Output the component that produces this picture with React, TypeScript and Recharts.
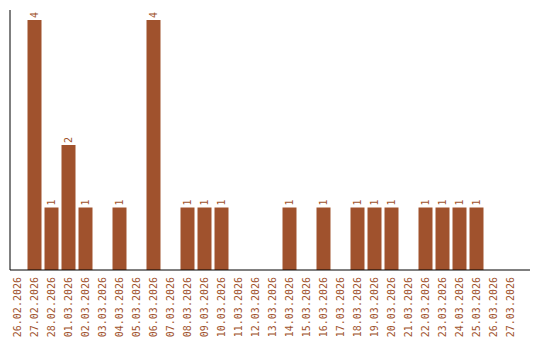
import React from 'react';
import { BarChart, Bar, XAxis, YAxis, LabelList } from 'recharts';

const days = [
  '26.02.2026', '27.02.2026', '28.02.2026', '01.03.2026', '02.03.2026',
  '03.03.2026', '04.03.2026', '05.03.2026', '06.03.2026', '07.03.2026',
  '08.03.2026', '09.03.2026', '10.03.2026', '11.03.2026', '12.03.2026',
  '13.03.2026', '14.03.2026', '15.03.2026', '16.03.2026', '17.03.2026',
  '18.03.2026', '19.03.2026', '20.03.2026', '21.03.2026', '22.03.2026',
  '23.03.2026', '24.03.2026', '25.03.2026', '26.03.2026', '27.03.2026',
];
const counts = [
  0, 4, 1, 2, 1, 0, 1, 0, 4, 0,
  1, 1, 1, 0, 0, 0, 1, 0, 1, 0,
  1, 1, 1, 0, 1, 1, 1, 1, 0, 0,
];

const data = days.map((day, i) => ({ day, count: counts[i] }));

const BROWN = '#a0522d';
const FONT = '"DejaVu Sans Mono", monospace';

const DayTick = (props: any) => {
  const { x, payload } = props;
  // labels hang just under the axis line, read bottom-up
  return (
    <text
      transform={`translate(${x},277) rotate(-90)`}
      textAnchor="end"
      dy="0.35em"
      fill={BROWN}
      fontSize={10}
      fontFamily={FONT}
    >
      {payload.value}
    </text>
  );
};

const ValueLabel = (props: any) => {
  const { x, y, width, value } = props;
  if (!value) return null;
  return (
    <text
      transform={`translate(${x + width / 2},${y - 2}) rotate(-90)`}
      textAnchor="start"
      dy="0.35em"
      fill={BROWN}
      fontSize={10}
      fontFamily={FONT}
    >
      {value}
    </text>
  );
};

export default function App() {
  return (
    <div style={{ position: 'absolute', left: 0, top: 0, background: '#fff' }}>
      <BarChart
        width={540}
        height={340}
        data={data}
        margin={{ top: 10, right: 10, left: 9, bottom: 0 }}
      >
        <XAxis
          dataKey="day"
          interval={0}
          height={70}
          tickLine={false}
          axisLine={{ stroke: '#000' }}
          tick={<DayTick />}
          padding={{ left: -1.5, right: 11.5 }}
        />
        <YAxis
          width={1}
          domain={[0, 4.16]}
          tick={false}
          tickLine={false}
          axisLine={{ stroke: '#000' }}
        />
        <Bar dataKey="count" fill={BROWN} barSize={14} isAnimationActive={false}>
          <LabelList dataKey="count" content={<ValueLabel />} />
        </Bar>
      </BarChart>
    </div>
  );
}
